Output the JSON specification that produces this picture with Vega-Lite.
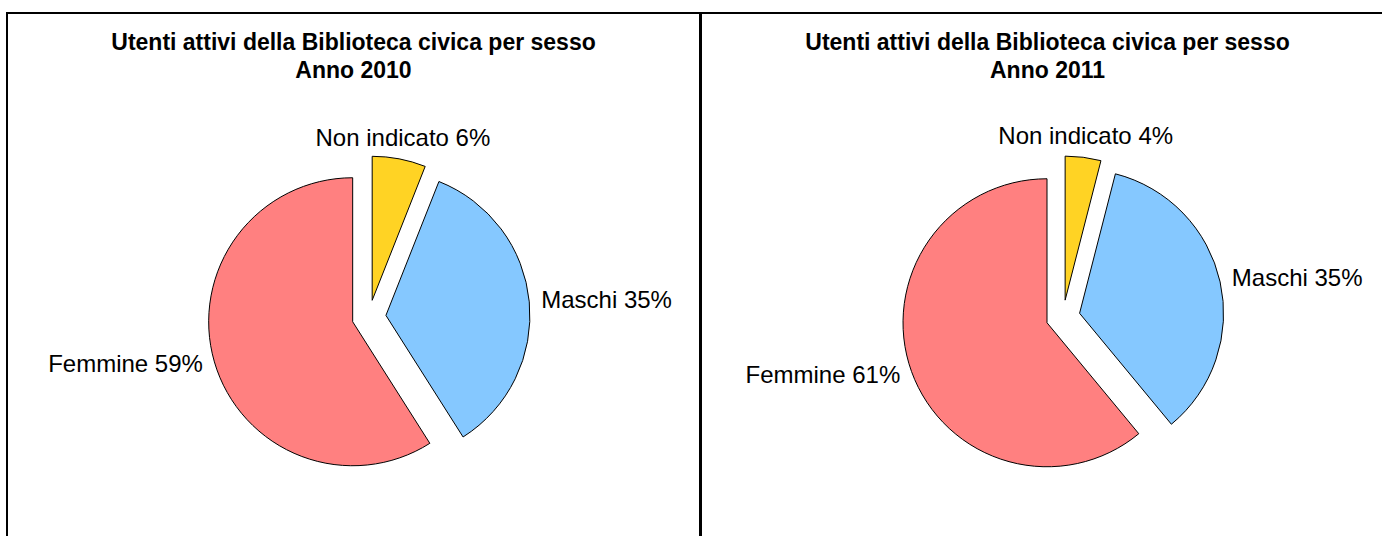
{
  "$schema": "https://vega.github.io/schema/vega-lite/v6.json",
  "background": "white",
  "padding": {"left": 6, "top": 12, "right": 0, "bottom": 0},
  "data": {"values": [
    {"anno": "2010", "sesso": "Non indicato", "pct": 6},
    {"anno": "2010", "sesso": "Maschi", "pct": 35},
    {"anno": "2010", "sesso": "Femmine", "pct": 59},
    {"anno": "2011", "sesso": "Non indicato", "pct": 4},
    {"anno": "2011", "sesso": "Maschi", "pct": 35},
    {"anno": "2011", "sesso": "Femmine", "pct": 61}
  ]},
  "spacing": -2,
  "hconcat": [
    {
      "width": 693,
      "height": 608,
      "view": {"stroke": "#000000", "strokeWidth": 2},
      "transform": [
        {"filter": "datum.anno == '2010'"},
        {"calculate": "datum.sesso + ' ' + datum.pct + '%'", "as": "etichetta"}
      ],
      "title": {"text": ["Utenti attivi della Biblioteca civica per sesso", "Anno 2010"], "fontSize": 23, "fontWeight": "bold", "font": "Liberation Sans", "color": "#000000", "anchor": "middle", "offset": -88, "baseline": "alphabetic", "lineHeight": 28},
      "encoding": {
        "theta": {"field": "pct", "type": "quantitative", "stack": true},
        "order": {"field": "sesso", "sort": "descending"},
        "color": {"field": "sesso", "type": "nominal", "scale": {"domain": ["Non indicato", "Maschi", "Femmine"], "range": ["#FFD324", "#85C8FF", "#FF8080"]}, "legend": null}
      },
      "layer": [
        {"mark": {"type": "arc", "radius": 144, "stroke": "#000000", "strokeWidth": 1,
          "xOffset": {"expr": "15.5 + 17*sin(PI*(datum.pct_start+datum.pct_end)/100)"},
          "yOffset": {"expr": "-17*cos(PI*(datum.pct_start+datum.pct_end)/100)"}}},
        {"mark": {"type": "text", "font": "Liberation Sans", "fontSize": 24, "baseline": "middle", "xOffset": 15.5,
          "radius": {"expr": "abs(sin(PI*(datum.pct_start+datum.pct_end)/100)) > 0.5 ? 173 : 181"},
          "align": {"expr": "sin(PI*(datum.pct_start+datum.pct_end)/100) > 0.5 ? 'left' : (sin(PI*(datum.pct_start+datum.pct_end)/100) < -0.5 ? 'right' : 'center')"}},
          "encoding": {"text": {"field": "etichetta"}, "color": {"value": "#000000"}}}
      ]
    },
    {
      "width": 693,
      "height": 608,
      "view": {"stroke": "#000000", "strokeWidth": 2},
      "transform": [
        {"filter": "datum.anno == '2011'"},
        {"calculate": "datum.sesso + ' ' + datum.pct + '%'", "as": "etichetta"}
      ],
      "title": {"text": ["Utenti attivi della Biblioteca civica per sesso", "Anno 2011"], "fontSize": 23, "fontWeight": "bold", "font": "Liberation Sans", "color": "#000000", "anchor": "middle", "offset": -88, "baseline": "alphabetic", "lineHeight": 28},
      "encoding": {
        "theta": {"field": "pct", "type": "quantitative", "stack": true},
        "order": {"field": "sesso", "sort": "descending"},
        "color": {"field": "sesso", "type": "nominal", "scale": {"domain": ["Non indicato", "Maschi", "Femmine"], "range": ["#FFD324", "#85C8FF", "#FF8080"]}, "legend": null}
      },
      "layer": [
        {"mark": {"type": "arc", "radius": 144, "stroke": "#000000", "strokeWidth": 1,
          "xOffset": {"expr": "15.5 + 17*sin(PI*(datum.pct_start+datum.pct_end)/100)"},
          "yOffset": {"expr": "-17*cos(PI*(datum.pct_start+datum.pct_end)/100)"}}},
        {"mark": {"type": "text", "font": "Liberation Sans", "fontSize": 24, "baseline": "middle", "xOffset": 15.5,
          "radius": {"expr": "abs(sin(PI*(datum.pct_start+datum.pct_end)/100)) > 0.5 ? 173 : 181"},
          "align": {"expr": "sin(PI*(datum.pct_start+datum.pct_end)/100) > 0.5 ? 'left' : (sin(PI*(datum.pct_start+datum.pct_end)/100) < -0.5 ? 'right' : 'center')"}},
          "encoding": {"text": {"field": "etichetta"}, "color": {"value": "#000000"}}}
      ]
    }
  ],
  "config": {"view": {"stroke": "#000000", "strokeWidth": 2}, "style": {"cell": {"stroke": "#000000", "strokeWidth": 2}}, "font": "Liberation Sans"}
}
